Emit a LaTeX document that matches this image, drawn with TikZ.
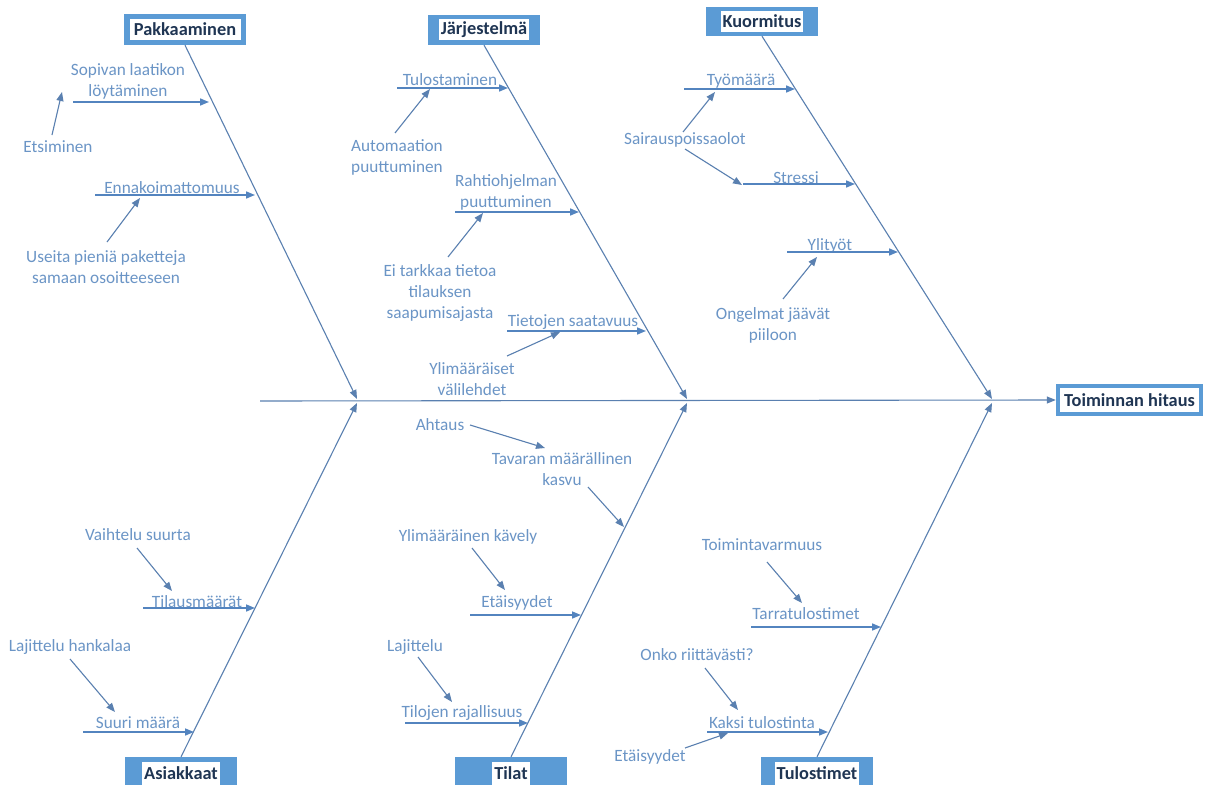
\documentclass[tikz,border=0pt]{standalone}
\usepackage{fontspec}
\setmainfont{Carlito}
\usetikzlibrary{arrows.meta}
\definecolor{boxblue}{HTML}{5B9BD5}
\definecolor{linecol}{HTML}{5A80B0}
\definecolor{branchcol}{HTML}{5384BF}
\definecolor{txtcol}{HTML}{6B95C6}
\definecolor{headcol}{HTML}{1F3553}
\tikzset{
  lbl/.style={text=txtcol, font=\fontsize{17.3}{21}\selectfont, align=center, inner sep=0pt},
  catframe/.style={fill=boxblue, draw=none, inner sep=0pt},
  cattext/.style={fill=white, text=headcol, font=\fontsize{18.4}{22}\selectfont\bfseries, inner xsep=2bp, inner ysep=0pt, minimum height=21bp},
  bone/.style={draw=linecol, line width=1.1bp, -{Triangle[length=9bp,width=7bp]}},
  branch/.style={draw=branchcol, line width=1.6bp, -{Triangle[length=9bp,width=7bp]}},
  pointer/.style={draw=linecol, line width=1.1bp, -{Triangle[length=9bp,width=7bp]}},
}
\begin{document}
\begin{tikzpicture}[x=1bp,y=-1bp]
\useasboundingbox (0,0) rectangle (1214,785);
\fill[white] (0,0) rectangle (1214,785);

% ---------- category boxes ----------
\node[catframe, minimum width=122bp, minimum height=31bp] (pak) at (185,29.5) {};
\node[cattext, minimum width=111bp] (pakt) at (pak) {Pakkaaminen};
\node[catframe, minimum width=112bp, minimum height=30bp] (jar) at (484,30) {};
\node[cattext] (jart) at (jar) {Järjestelmä};
\node[catframe, minimum width=112bp, minimum height=29bp] (kuo) at (762,21.5) {};
\node[cattext] (kuot) at (kuo) {Kuormitus};
\node[catframe, minimum width=112bp, minimum height=28bp] (asi) at (181,771) {};
\node[cattext, minimum height=23bp] (asit) at (181,773.5) {Asiakkaat};
\node[catframe, minimum width=112bp, minimum height=28bp] (til) at (511,771) {};
\node[cattext, minimum height=23bp] (tilt) at (511,773.5) {Tilat};
\node[catframe, minimum width=112bp, minimum height=28bp] (tul) at (817,771) {};
\node[cattext, minimum height=23bp] (tult) at (817,773.5) {Tulostimet};
\node[catframe, minimum width=147bp, minimum height=32bp] (toim) at (1129.5,400) {};
\node[cattext, minimum width=139bp, minimum height=24bp] (toimt) at (toim) {Toiminnan hitaus};

% ---------- spine and bones ----------
\coordinate (spS) at (260,401);
\coordinate (pakE) at (357,399);
\coordinate (asiE) at (357,403);
\coordinate (jarE) at (687,399);
\coordinate (tilE) at (687,403);
\coordinate (kuoE) at (992,399);
\coordinate (tulE) at (992,403);
\draw[bone] (spS) -- (toim.west);
\draw[bone] (pak.south) -- (pakE);
\draw[bone] (jar.south) -- (jarE);
\draw[bone] (kuo.south) -- (kuoE);
\draw[bone] (asi.north) -- (asiE);
\draw[bone] (til.north) -- (tilE);
\draw[bone] (tul.north) -- (tulE);

% ---------- Pakkaaminen ----------
\node[lbl] (sop) at (128,81) {Sopivan laatikon\\löytäminen};
\node[lbl] (ets) at (58,147) {Etsiminen};
\node[lbl] (enn) at (172,188) {Ennakoimattomuus};
\node[lbl] (use) at (106,267) {Useita pieniä paketteja\\samaan osoitteeseen};
\coordinate (sopS) at (73,102);  \coordinate (sopE) at (209,102);
\coordinate (etsS) at (52,135);  \coordinate (etsE) at (62,92);
\coordinate (ennS) at (95,195);  \coordinate (ennE) at (255,195);
\coordinate (useS) at (107,242); \coordinate (useE) at (140,198);
\draw[branch] (sopS) -- (sopE);
\draw[pointer] (etsS) -- (etsE);
\draw[branch] (ennS) -- (ennE);
\draw[pointer] (useS) -- (useE);

% ---------- Järjestelmä ----------
\node[lbl] (tls) at (450,80) {Tulostaminen};
\node[lbl, align=left] (aut) at (397,157) {Automaation\\puuttuminen};
\node[lbl] (rah) at (506,192) {Rahtiohjelman\\puuttuminen};
\node[lbl] (eit) at (440,293) {Ei tarkkaa tietoa\\tilauksen\\saapumisajasta};
\node[lbl] (tie) at (573,322) {Tietojen saatavuus};
\node[lbl] (yli) at (472,379.5) {Ylimääräiset\\välilehdet};
\coordinate (tlsS) at (397,88);  \coordinate (tlsE) at (508,88);
\coordinate (autS) at (395,133); \coordinate (autE) at (430,89);
\coordinate (rahS) at (455,212); \coordinate (rahE) at (579,212);
\coordinate (eitS) at (448,257); \coordinate (eitE) at (483,213);
\coordinate (tieS) at (507,331); \coordinate (tieE) at (646,331);
\coordinate (yliS) at (507,356); \coordinate (yliE) at (560,332);
\draw[branch] (tlsS) -- (tlsE);
\draw[pointer] (autS) -- (autE);
\draw[branch] (rahS) -- (rahE);
\draw[pointer] (eitS) -- (eitE);
\draw[branch] (tieS) -- (tieE);
\draw[pointer] (yliS) -- (yliE);

% ---------- Kuormitus ----------
\node[lbl] (tyo) at (741,81) {Työmäärä};
\node[lbl] (sai) at (685,140) {Sairauspoissaolot};
\node[lbl] (str) at (796,178) {Stressi};
\node[lbl] (ylt) at (830,246) {Ylityöt};
\node[lbl] (ong) at (773,325) {Ongelmat jäävät\\piiloon};
\coordinate (tyoS) at (684,89);  \coordinate (tyoE) at (795,89);
\coordinate (sa1S) at (683,132); \coordinate (sa1E) at (715,92);
\coordinate (sa2S) at (685,149); \coordinate (sa2E) at (742,185);
\coordinate (strS) at (743,184); \coordinate (strE) at (855,184);
\coordinate (yltS) at (787,252); \coordinate (yltE) at (898,252);
\coordinate (ongS) at (783,299); \coordinate (ongE) at (817,257);
\draw[branch] (tyoS) -- (tyoE);
\draw[pointer] (sa1S) -- (sa1E);
\draw[pointer] (sa2S) -- (sa2E);
\draw[branch] (strS) -- (strE);
\draw[branch] (yltS) -- (yltE);
\draw[pointer] (ongS) -- (ongE);

% ---------- Asiakkaat ----------
\node[lbl] (vai) at (138,535) {Vaihtelu suurta};
\node[lbl] (tam) at (197,602) {Tilausmäärät};
\node[lbl] (lah) at (70,647) {Lajittelu hankalaa};
\node[lbl] (suu) at (138,723) {Suuri määrä};
\coordinate (vaiS) at (137,548); \coordinate (vaiE) at (172,591);
\coordinate (tamS) at (143,608); \coordinate (tamE) at (255,608);
\coordinate (lahS) at (70,659);  \coordinate (lahE) at (115,712);
\coordinate (suuS) at (83,732);  \coordinate (suuE) at (194,732);
\draw[pointer] (vaiS) -- (vaiE);
\draw[branch] (tamS) -- (tamE);
\draw[pointer] (lahS) -- (lahE);
\draw[branch] (suuS) -- (suuE);

% ---------- Tilat ----------
\node[lbl] (aht) at (440,425) {Ahtaus};
\node[lbl] (tav) at (562,469.5) {Tavaran määrällinen\\kasvu};
\node[lbl] (ykv) at (468,537) {Ylimääräinen kävely};
\node[lbl] (et1) at (517,603) {Etäisyydet};
\node[lbl] (laj) at (415,647) {Lajittelu};
\node[lbl] (tir) at (462,713) {Tilojen rajallisuus};
\coordinate (ahtS) at (470,425); \coordinate (ahtE) at (545,448);
\coordinate (tavS) at (588,487); \coordinate (tavE) at (624,527);
\coordinate (ykvS) at (472,548); \coordinate (ykvE) at (505,590);
\coordinate (et1S) at (470,615); \coordinate (et1E) at (581,615);
\coordinate (lajS) at (418,657); \coordinate (lajE) at (452,702);
\coordinate (tirS) at (405,723); \coordinate (tirE) at (528,723);
\draw[pointer] (ahtS) -- (ahtE);
\draw[pointer] (tavS) -- (tavE);
\draw[pointer] (ykvS) -- (ykvE);
\draw[branch] (et1S) -- (et1E);
\draw[pointer] (lajS) -- (lajE);
\draw[branch] (tirS) -- (tirE);

% ---------- Tulostimet ----------
\node[lbl] (tvm) at (762,545) {Toimintavarmuus};
\node[lbl] (tar) at (806,614) {Tarratulostimet};
\node[lbl] (onk) at (697,655) {Onko riittävästi?};
\node[lbl] (kak) at (762,723) {Kaksi tulostinta};
\node[lbl] (et2) at (650,757) {Etäisyydet};
\coordinate (tvmS) at (767,562); \coordinate (tvmE) at (802,603);
\coordinate (tarS) at (751,627); \coordinate (tarE) at (881,627);
\coordinate (onkS) at (705,668); \coordinate (onkE) at (738,710);
\coordinate (kakS) at (707,732); \coordinate (kakE) at (828,732);
\coordinate (et2S) at (685,748); \coordinate (et2E) at (728,733);
\draw[pointer] (tvmS) -- (tvmE);
\draw[branch] (tarS) -- (tarE);
\draw[pointer] (onkS) -- (onkE);
\draw[branch] (kakS) -- (kakE);
\draw[pointer] (et2S) -- (et2E);
\end{tikzpicture}
\end{document}
